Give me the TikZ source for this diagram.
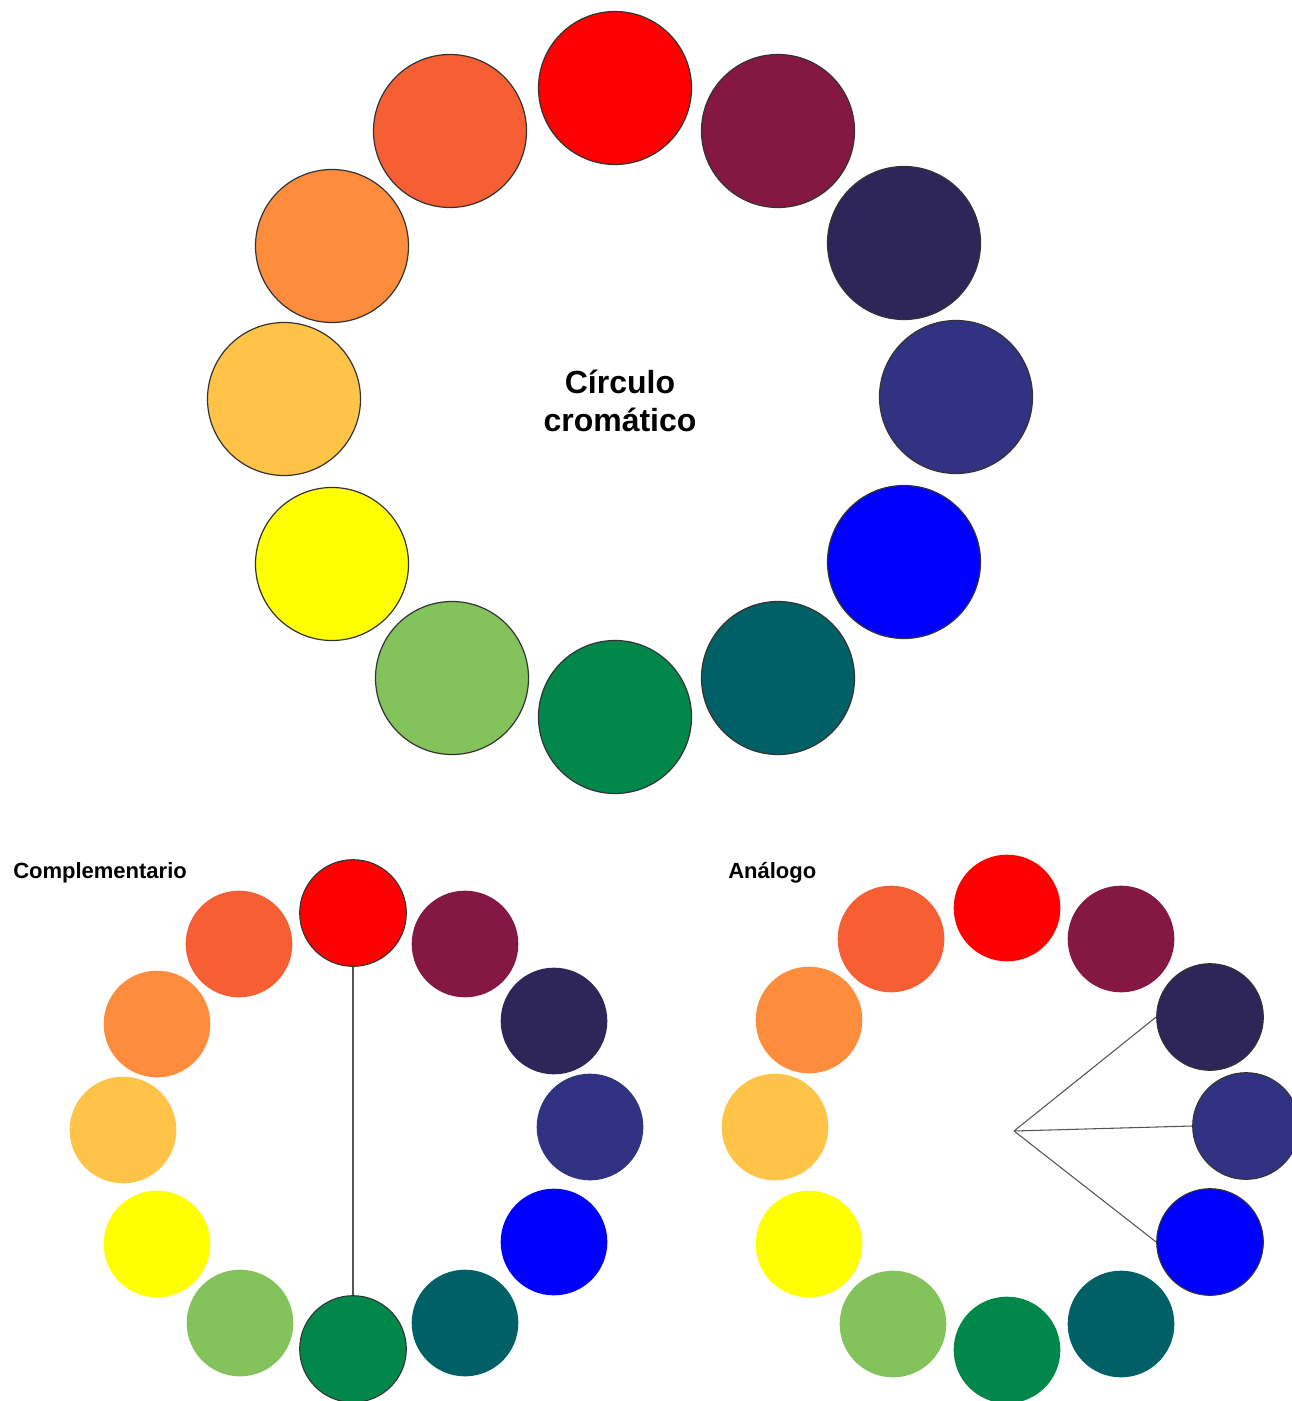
\documentclass[tikz,border=0pt]{standalone}
\usepackage{fontspec}
\setmainfont{Liberation Sans}
\definecolor{cRed}{HTML}{FF0000}
\definecolor{cMar}{HTML}{851842}
\definecolor{cDpu}{HTML}{2E2559}
\definecolor{cInd}{HTML}{323282}
\definecolor{cBlu}{HTML}{0000FF}
\definecolor{cTea}{HTML}{015F66}
\definecolor{cGre}{HTML}{01874A}
\definecolor{cLgr}{HTML}{84C35B}
\definecolor{cYel}{HTML}{FFFF00}
\definecolor{cLor}{HTML}{FFC347}
\definecolor{cOra}{HTML}{FD8C3D}
\definecolor{cRor}{HTML}{F55F33}
\definecolor{bord}{HTML}{333333}
\definecolor{linec}{HTML}{555555}
\begin{document}
\begin{tikzpicture}[x=0.75pt,y=-0.75pt,
  big/.style={circle, inner sep=0pt, minimum size=114.75pt, draw=bord, line width=0.9pt},
  small/.style={circle, inner sep=0pt, minimum size=80pt},
  smallb/.style={small, draw=bord, line width=0.8pt},
  title/.style={font=\bfseries\fontsize{24}{28.5}\selectfont, align=center, inner sep=0pt},
  label/.style={font=\bfseries\fontsize{16.5}{19}\selectfont, anchor=west, inner sep=0pt},
  conn/.style={draw=linec, line width=0.8pt}]
\useasboundingbox (0,0) rectangle (1291,1401);
% top wheel
\node[big, fill=cRed] (tRed) at (615,88) {};
\node[big, fill=cMar] (tMar) at (778,131) {};
\node[big, fill=cDpu] (tDpu) at (904,243) {};
\node[big, fill=cInd] (tInd) at (956,397) {};
\node[big, fill=cBlu] (tBlu) at (904,562) {};
\node[big, fill=cTea] (tTea) at (778,678) {};
\node[big, fill=cGre] (tGre) at (615,717) {};
\node[big, fill=cLgr] (tLgr) at (452,678) {};
\node[big, fill=cYel] (tYel) at (332,564) {};
\node[big, fill=cLor] (tLor) at (284,399) {};
\node[big, fill=cOra] (tOra) at (332,246) {};
\node[big, fill=cRor] (tRor) at (450,131) {};
\node[title] (ttl) at (620,401) {Círculo\\cromático};
% complementario
\node[label] (lC) at (13,873) {Complementario};
\node[smallb, fill=cRed] (cRedN) at (353,913) {};
\node[small, fill=cMar] (cMarN) at (465,944) {};
\node[small, fill=cDpu] (cDpuN) at (554,1021) {};
\node[small, fill=cInd] (cIndN) at (590,1127) {};
\node[small, fill=cBlu] (cBluN) at (554,1242) {};
\node[small, fill=cTea] (cTeaN) at (465,1323) {};
\node[smallb, fill=cGre] (cGreN) at (353,1349) {};
\node[small, fill=cLgr] (cLgrN) at (240,1323) {};
\node[small, fill=cYel] (cYelN) at (157,1244) {};
\node[small, fill=cLor] (cLorN) at (123,1130) {};
\node[small, fill=cOra] (cOraN) at (157,1024) {};
\node[small, fill=cRor] (cRorN) at (239,944) {};
\draw[conn] (cRedN.south) -- (cGreN.north);
% analogo
\node[label] (lA) at (728,873) {Análogo};
\node[small, fill=cRed] (aRed) at (1007,908) {};
\node[small, fill=cMar] (aMar) at (1121,939) {};
\node[smallb, fill=cDpu] (aDpu) at (1210,1017) {};
\node[smallb, fill=cInd] (aInd) at (1246,1126) {};
\node[smallb, fill=cBlu] (aBlu) at (1210,1242) {};
\node[small, fill=cTea] (aTea) at (1121,1324) {};
\node[small, fill=cGre] (aGre) at (1007,1350) {};
\node[small, fill=cLgr] (aLgr) at (893,1324) {};
\node[small, fill=cYel] (aYel) at (809,1244) {};
\node[small, fill=cLor] (aLor) at (775,1127) {};
\node[small, fill=cOra] (aOra) at (809,1020) {};
\node[small, fill=cRor] (aRor) at (891,939) {};
\coordinate (apex) at (1014,1131);
\draw[conn] (apex) -- (aDpu.west);
\draw[conn] (apex) -- (aInd.west);
\draw[conn] (apex) -- (aBlu.west);
\end{tikzpicture}
\end{document}
